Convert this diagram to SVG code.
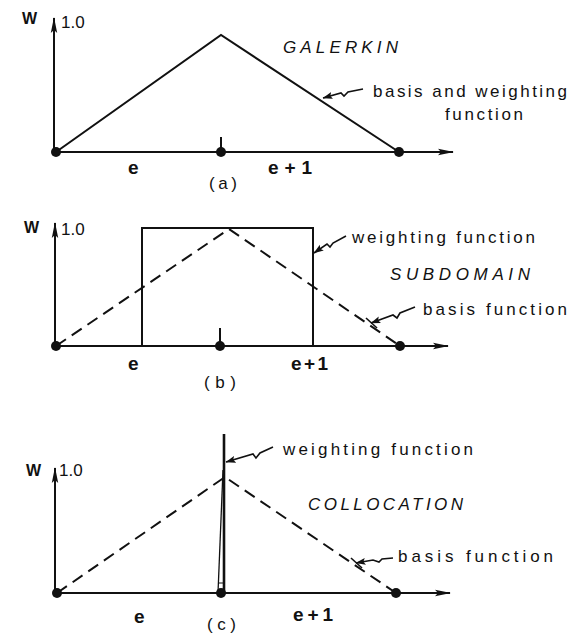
<svg xmlns="http://www.w3.org/2000/svg" width="578" height="634" viewBox="0 0 578 634">
<defs>
<marker id="ah" viewBox="0 0 16 8" refX="15" refY="4" markerWidth="16" markerHeight="8" markerUnits="userSpaceOnUse" orient="auto">
<path d="M0,0.8 L16,4 L0,7.2 L3,4 Z" fill="#111"/>
</marker>
<marker id="lh" viewBox="0 0 10 8" refX="9.5" refY="4" markerWidth="10" markerHeight="8" markerUnits="userSpaceOnUse" orient="auto">
<path d="M0,0.5 L10,4 L0,7.5 L2,4 Z" fill="#111"/>
</marker>
<style>
.ax{stroke:#111;stroke-width:2;fill:none}
.cv{stroke:#111;stroke-width:2;fill:none;stroke-linejoin:miter}
.dash{stroke:#111;stroke-width:2;fill:none;stroke-dasharray:12 7}
.ld{stroke:#111;stroke-width:1.6;fill:none}
.dot{fill:#111}
text{font-family:"Liberation Sans","DejaVu Sans",sans-serif;fill:#111}
.lab{font-size:17px}
.tit{font-size:17px;font-style:italic}
.w{font-size:16px;font-weight:bold}
.one{font-size:17px}
.e{font-size:19px;font-weight:bold}
.cap{font-size:17px}
</style>
</defs>
<rect width="578" height="634" fill="#fff"/>

<g id="panel-a">
<g id="a-axes">
<line class="ax" x1="56" y1="152" x2="453" y2="152" marker-end="url(#ah)"/>
<line class="ax" x1="54" y1="152" x2="54" y2="18" marker-end="url(#ah)"/>
<line class="ax" x1="221" y1="152" x2="221" y2="137"/>
</g>
<g id="a-curve"><polyline class="cv" points="56,152 221,35 399,152"/></g>
<g id="a-nodes">
<circle class="dot" cx="56" cy="152" r="5"/>
<circle class="dot" cx="221" cy="152" r="5"/>
<circle class="dot" cx="399" cy="152" r="5"/>
</g>
<g id="a-labels">
<text class="w" x="22" y="24">W</text>
<text class="one" x="61" y="28">1.0</text>
<text class="tit" x="283" y="53" textLength="115" lengthAdjust="spacing">GALERKIN</text>
<text class="lab" x="373" y="97" textLength="194" lengthAdjust="spacing">basis and weighting</text>
<text class="lab" x="445" y="120" textLength="78" lengthAdjust="spacing">function</text>
<text class="e" x="128" y="174">e</text>
<text class="e" x="268" y="174" textLength="44" lengthAdjust="spacing">e+1</text>
<text class="cap" x="209" y="189" textLength="28" lengthAdjust="spacing">(a)</text>
</g>
</g>

<g id="panel-b">
<g id="b-axes">
<line class="ax" x1="56" y1="346" x2="448" y2="346" marker-end="url(#ah)"/>
<line class="ax" x1="55" y1="346" x2="55" y2="223" marker-end="url(#ah)"/>
<line class="ax" x1="220" y1="346" x2="220" y2="328"/>
</g>
<g id="b-weight"><polyline class="cv" points="142,346 142,228 313,228 313,346"/></g>
<g id="b-basis"><polyline class="dash" points="56,346 229,229 400,346"/></g>
<g id="b-nodes">
<circle class="dot" cx="56" cy="346" r="5"/>
<circle class="dot" cx="220" cy="346" r="5"/>
<circle class="dot" cx="400" cy="346" r="5"/>
</g>
<g id="b-labels">
<text class="w" x="24" y="233">W</text>
<text class="one" x="61" y="235">1.0</text>
<text class="lab" x="352" y="243" textLength="183" lengthAdjust="spacing">weighting function</text>
<text class="tit" x="390" y="280" textLength="140" lengthAdjust="spacing">SUBDOMAIN</text>
<text class="lab" x="423" y="315" textLength="144" lengthAdjust="spacing">basis function</text>
<text class="e" x="128" y="370">e</text>
<text class="e" x="291" y="370" textLength="37" lengthAdjust="spacing">e+1</text>
<text class="cap" x="204" y="388" textLength="32" lengthAdjust="spacing">(b)</text>
</g>
</g>

<g id="panel-c">
<g id="c-axes">
<line class="ax" x1="57" y1="593" x2="450" y2="593" marker-end="url(#ah)"/>
<line class="ax" x1="55" y1="593" x2="55" y2="468" marker-end="url(#ah)"/>
</g>
<g id="c-basis"><polyline class="dash" points="57,593 225,477 396,593"/></g>
<g id="c-weight">
<line x1="224" y1="434" x2="224" y2="593" stroke="#111" stroke-width="2.6"/>
<line x1="223" y1="470" x2="218" y2="593" stroke="#111" stroke-width="1.3"/>
<line x1="218" y1="583" x2="224" y2="583" stroke="#111" stroke-width="1"/>
</g>
<g id="c-nodes">
<circle class="dot" cx="57" cy="593" r="5"/>
<circle class="dot" cx="221" cy="593" r="5"/>
<circle class="dot" cx="396" cy="593" r="5"/>
</g>
<g id="c-labels">
<text class="w" x="26" y="476">W</text>
<text class="one" x="59" y="476">1.0</text>
<text class="lab" x="283" y="455" textLength="190" lengthAdjust="spacing">weighting function</text>
<text class="tit" x="308" y="510" textLength="155" lengthAdjust="spacing">COLLOCATION</text>
<text class="lab" x="398" y="562" textLength="155" lengthAdjust="spacing">basis function</text>
<text class="e" x="134" y="623">e</text>
<text class="e" x="293" y="621" textLength="40" lengthAdjust="spacing">e+1</text>
<text class="cap" x="207" y="630" font-size="16" textLength="29" lengthAdjust="spacing">(c)</text>
</g>
</g>

<g id="connectors">
<path class="ld" d="M363,89 L348,92 L344,96 L341,93 L323,98" marker-end="url(#lh)"/>
<path class="ld" d="M346,236 L333,243 L330,247 L327,244 L314,253" marker-end="url(#lh)"/>
<path class="ld" d="M415,307 L400,313 L397,318 L393,315 L371,323" marker-end="url(#lh)"/>
<line x1="366" y1="318" x2="377" y2="328" stroke="#111" stroke-width="1.6"/>
<path class="ld" d="M273,447 L260,453 L256,458 L253,454 L226,462" marker-end="url(#lh)"/>
<path class="ld" d="M393,558 L382,559 L379,562 L373,560 L356,563" marker-end="url(#lh)"/>
<line x1="351" y1="558" x2="362" y2="568" stroke="#111" stroke-width="1.6"/>
</g>
</svg>
